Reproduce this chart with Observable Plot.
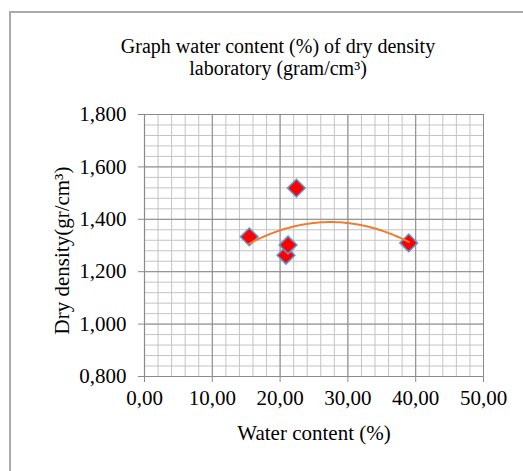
<!DOCTYPE html>
<html>
<head>
<meta charset="utf-8">
<script src="https://cdn.jsdelivr.net/npm/d3@7"></script>
<script src="https://cdn.jsdelivr.net/npm/@observablehq/plot@0.6"></script>
<style>
  html, body { margin: 0; padding: 0; background: #fff; overflow: hidden; }
  #page { position: relative; width: 523px; height: 471px; overflow: hidden; font-family: "Liberation Serif", "Times New Roman", serif; }
  #frame { position: absolute; left: 9px; top: 11px; width: 700px; height: 700px; border-left: 2px solid #ababab; border-top: 2px solid #ababab; box-sizing: border-box; }
  #title { position: absolute; left: 0; top: 35px; width: 556px; text-align: center; font-size: 20px; line-height: 22px; color: #000; }
  #chart { position: absolute; left: 0; top: 90px; }
</style>
</head>
<body>
<div id="page">
  <div id="frame"></div>
  <div id="title">Graph water content (%) of dry density<br>laboratory (gram/cm³)</div>
  <div id="chart"></div>
</div>
<script>
// Data
const waterContent = [15.45, 20.87, 21.17, 22.40, 38.97];
const dryDensity   = [1.333, 1.263, 1.302, 1.519, 1.310];

const xTicks = [0, 10, 20, 30, 40, 50];
const yTicks = [0.8, 1.0, 1.2, 1.4, 1.6, 1.8];
const xMinor = d3.range(0, 50.001, 2);
const yMinor = d3.range(0.8, 1.8001, 0.04);

const xLabel = "Water content (%)";
const yLabel = "Dry density(gr/cm³)";

const points = waterContent.map((x, i) => ({x, y: dryDensity[i]}));

// Polynomial (order 2) least-squares trendline, as in the spreadsheet
function quadFit(xs, ys) {
  const n = xs.length;
  let S = [0,0,0,0,0], T = [0,0,0];
  for (let i = 0; i < n; i++) {
    let p = 1;
    for (let k = 0; k < 5; k++) { S[k] += p; if (k < 3) T[k] += p * ys[i]; p *= xs[i]; }
  }
  const A = [[S[0],S[1],S[2],T[0]],[S[1],S[2],S[3],T[1]],[S[2],S[3],S[4],T[2]]];
  for (let c = 0; c < 3; c++) {
    for (let r = c + 1; r < 3; r++) {
      const f = A[r][c] / A[c][c];
      for (let k = c; k < 4; k++) A[r][k] -= f * A[c][k];
    }
  }
  const coef = [0,0,0];
  for (let r = 2; r >= 0; r--) {
    let s = A[r][3];
    for (let k = r + 1; k < 3; k++) s -= A[r][k] * coef[k];
    coef[r] = s / A[r][r];
  }
  return x => coef[0] + coef[1] * x + coef[2] * x * x;
}
const fit = quadFit(waterContent, dryDensity);
const xMin = d3.min(waterContent), xMax = d3.max(waterContent);
const trend = d3.range(0, 101).map(i => { const x = xMin + (xMax - xMin) * i / 100; return {x, y: fit(x)}; });

const fmtX = d => d.toFixed(2).replace(".", ",");
const fmtY = d => d.toFixed(3).replace(".", ",");

const chart = Plot.plot({
  width: 523,
  height: 381,
  marginLeft: 144,
  marginRight: 40,
  marginTop: 24,
  marginBottom: 95,
  x: {domain: [0, 50]},
  y: {domain: [0.8, 1.8]},
  style: {fontFamily: "'Liberation Serif', 'Times New Roman', serif", fontSize: "21px", color: "#000", background: "transparent", overflow: "visible"},
  marks: [
    Plot.gridX(xMinor, {stroke: "#c4c4c4", strokeOpacity: 1, strokeWidth: 1}),
    Plot.gridY(yMinor, {stroke: "#c4c4c4", strokeOpacity: 1, strokeWidth: 1}),
    Plot.gridX(xTicks, {stroke: "#8a8a8a", strokeOpacity: 1, strokeWidth: 1}),
    Plot.gridY(yTicks, {stroke: "#8a8a8a", strokeOpacity: 1, strokeWidth: 1}),
    Plot.ruleX([0], {stroke: "#8a8a8a", strokeWidth: 1.2}),
    Plot.ruleY([0.8], {stroke: "#8a8a8a", strokeWidth: 1.2}),
    Plot.axisX(xTicks, {tickSize: 6, tickPadding: 8, tickFormat: fmtX, stroke: "#8a8a8a", fill: "#000", label: null, fontSize: 21}),
    Plot.axisY(yTicks, {tickSize: 6, tickPadding: 12, tickFormat: fmtY, stroke: "#8a8a8a", fill: "#000", label: null, fontSize: 21}),
    Plot.dot(points, {x: "x", y: "y", symbol: "diamond2", r: 8, fill: "#ff0000", stroke: "#5b9bd5", strokeWidth: 1.5}),
    Plot.line(trend, {x: "x", y: "y", stroke: "#ed7d31", strokeWidth: 2, curve: "linear"}),
    Plot.text([xLabel], {frameAnchor: "bottom", dy: 57, lineAnchor: "middle", textAnchor: "middle", fontSize: 21, fill: "#000"}),
    Plot.text([yLabel], {frameAnchor: "left", dx: -82, dy: 5, rotate: -90, lineAnchor: "middle", textAnchor: "middle", fontSize: 21, fill: "#000"})
  ]
});
document.getElementById("chart").appendChild(chart);
</script>
</body>
</html>
